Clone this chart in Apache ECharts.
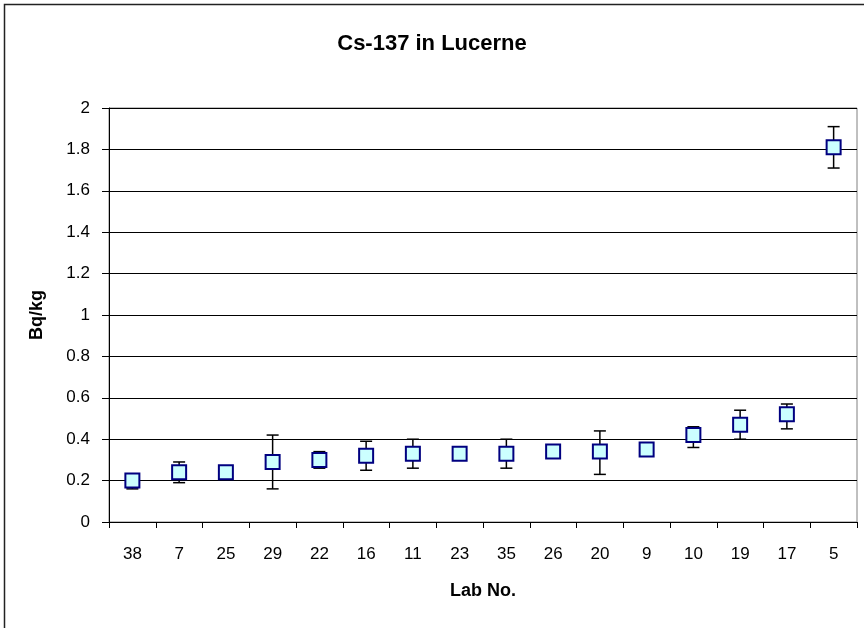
<!DOCTYPE html>
<html>
<head>
<meta charset="utf-8">
<script src="https://cdn.jsdelivr.net/npm/echarts@6/dist/echarts.min.js"></script>
<style>
html,body{margin:0;padding:0;background:#fff;}
#chart{width:864px;height:628px;}
</style>
</head>
<body>
<div id="chart"></div>
<script>
var labs = ['38','7','25','29','22','16','11','23','35','26','20','9','10','19','17','5'];
var values = [0.20,0.24,0.24,0.29,0.30,0.32,0.33,0.33,0.33,0.34,0.34,0.35,0.42,0.47,0.52,1.81];
var lower  = [0.16,0.19,0.23,0.16,0.26,0.25,0.26,0.32,0.26,0.33,0.23,0.34,0.36,0.40,0.45,1.71];
var upper  = [0.23,0.29,0.25,0.42,0.34,0.39,0.40,0.34,0.40,0.35,0.44,0.36,0.46,0.54,0.57,1.91];
var yTicks = [0,0.2,0.4,0.6,0.8,1,1.2,1.4,1.6,1.8,2];

var font = 'Liberation Sans, Arial, sans-serif';
var errData = labs.map(function(l,i){ return [i, lower[i], upper[i]]; });

var chart = echarts.init(document.getElementById('chart'));
chart.setOption({
  animation:false,
  backgroundColor:'#fff',
  title:{
    text:'Cs-137 in Lucerne', left:'center', top:28,
    textStyle:{fontFamily:font,fontSize:22,fontWeight:'bold',color:'#000'}
  },
  graphic:[{
    type:'rect', shape:{x:4.5,y:4.5,width:870,height:640},
    style:{fill:'none',stroke:'#222',lineWidth:1.5}, z:-1
  }],
  grid:{left:109,right:7,top:108,bottom:106,show:true,borderColor:'#808080',borderWidth:1,backgroundColor:'transparent'},
  xAxis:{
    type:'category', data:labs, boundaryGap:true,
    name:'Lab No.', nameLocation:'middle', nameGap:60,
    nameTextStyle:{fontFamily:font,fontSize:18,fontWeight:'bold',color:'#000'},
    axisLine:{lineStyle:{color:'#000',width:1}},
    axisTick:{show:true,length:6,lineStyle:{color:'#000'}},
    axisLabel:{fontFamily:font,fontSize:17,color:'#000',margin:24}
  },
  yAxis:{
    type:'value', min:0, max:2, interval:0.2,
    name:'Bq/kg', nameLocation:'middle', nameGap:63, nameRotate:90,
    nameTextStyle:{fontFamily:font,fontSize:18,fontWeight:'bold',color:'#000'},
    axisLine:{show:true,lineStyle:{color:'#000',width:1}},
    axisTick:{show:true,length:7,lineStyle:{color:'#000'}},
    axisLabel:{fontFamily:font,fontSize:17,color:'#000',margin:19,
      formatter:function(v){ var r=Math.round(v*10)/10; return yTicks.indexOf(r)>=0 ? String(r) : ''; }},
    splitLine:{show:true,lineStyle:{color:'#000',width:1}}
  },
  series:[
    {
      type:'custom', z:2,
      data:errData,
      renderItem:function(params,api){
        var x = api.value(0);
        var lo = api.coord([x, api.value(1)]);
        var hi = api.coord([x, api.value(2)]);
        var hw = 6;
        var st = {stroke:'#000',lineWidth:1.5};
        return {type:'group',children:[
          {type:'line',shape:{x1:lo[0],y1:lo[1],x2:hi[0],y2:hi[1]},style:st},
          {type:'line',shape:{x1:lo[0]-hw,y1:lo[1],x2:lo[0]+hw,y2:lo[1]},style:st},
          {type:'line',shape:{x1:hi[0]-hw,y1:hi[1],x2:hi[0]+hw,y2:hi[1]},style:st}
        ]};
      }
    },
    {
      type:'scatter', z:3,
      data:values,
      symbol:'rect', symbolSize:14,
      itemStyle:{color:'#CCFFFF',borderColor:'#000080',borderWidth:2,opacity:1}
    }
  ]
});
</script>
</body>
</html>
